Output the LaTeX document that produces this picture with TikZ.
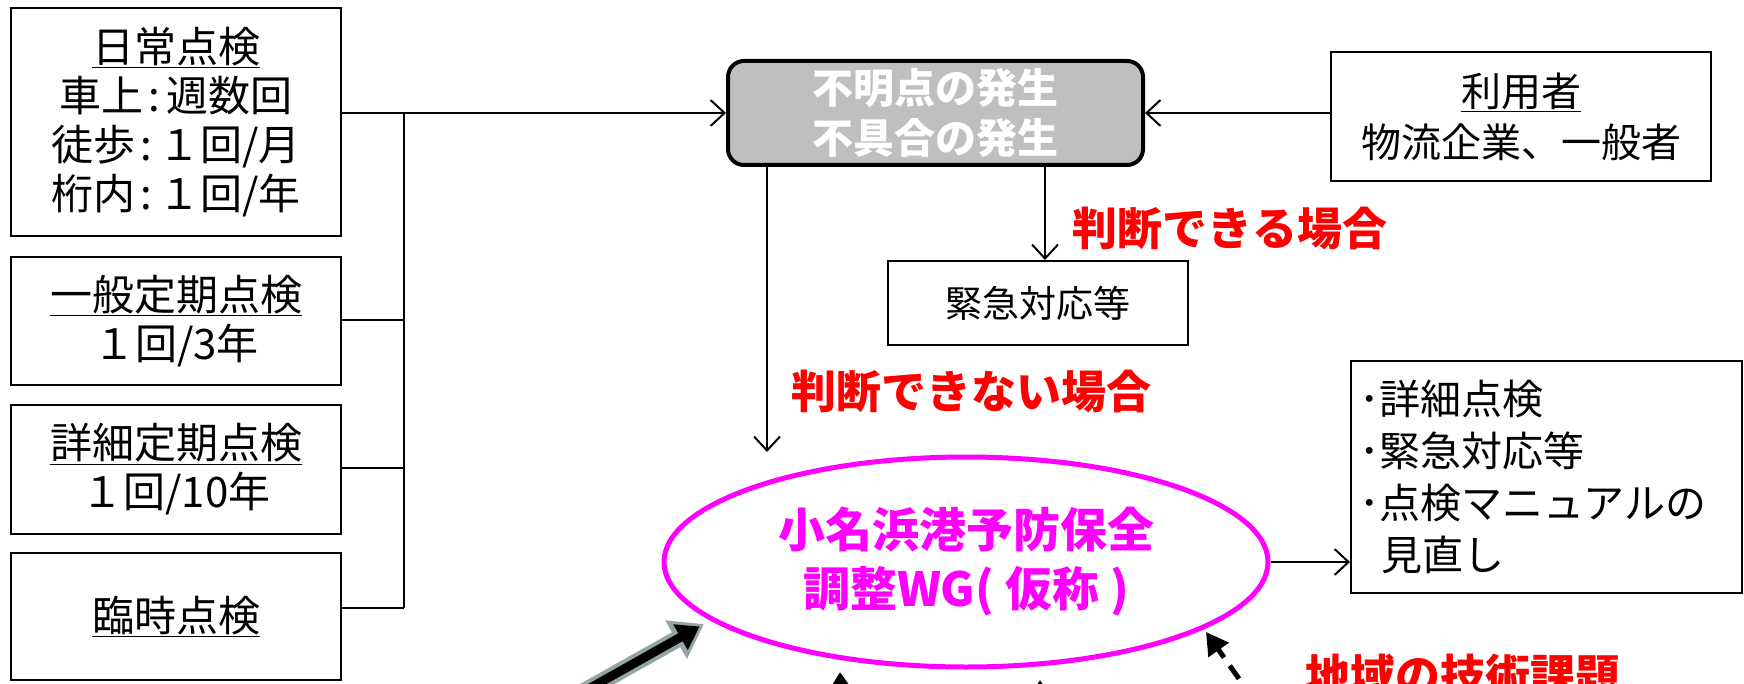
\documentclass[tikz,border=0pt]{standalone}
\usepackage{fontspec}
\setmainfont{Noto Sans CJK JP}
\usetikzlibrary{arrows.meta,shapes.geometric,calc}
\definecolor{boxgray}{HTML}{BFBFBF}
\definecolor{wgmag}{HTML}{FF00FF}
\definecolor{lblred}{HTML}{FF0000}
\definecolor{outgray}{HTML}{95A5A6}
\newcommand{\sepc}{\kern5pt:\kern6pt}
\begin{document}
\begin{tikzpicture}[x=1pt,y=-1pt,
  tbox/.style={draw, line width=2pt, align=center, inner sep=0pt,
    font=\fontsize{42pt}{49pt}\selectfont},
  conn/.style={line width=2pt, -{Straight Barb[length=14pt,width=26pt,line width=2pt]}},
  plain/.style={line width=2pt},
  lbl/.style={text=lblred, inner sep=0pt, font=\fontsize{45pt}{50pt}\selectfont\bfseries},
  uparr/.style={line width=6pt, -{Triangle[length=24pt,width=30pt]}}
]
\useasboundingbox (0,0) rectangle (1744,684);
\clip (0,0) rectangle (1744,684);

% left boxes
\node[tbox, minimum width=330pt, minimum height=228pt] (b1) at (176,122)
  {\underline{日常点検}\\車上\sepc 週数回\\徒歩\sepc １回/月\\桁内\sepc １回/年};
\node[tbox, minimum width=330pt, minimum height=128pt] (b2) at (176,321)
  {\underline{一般定期点検}\\１回/3年};
\node[tbox, minimum width=330pt, minimum height=129pt] (b3) at (176,469.5)
  {\underline{詳細定期点検}\\１回/10年};
\node[tbox, minimum width=330pt, minimum height=127pt] (b4) at (176,616.5)
  {\underline{臨時点検}};

% gray box
\node[draw, line width=4pt, fill=boxgray, rounded corners=16pt, text=white,
  minimum width=415pt, minimum height=104pt, align=center, inner sep=0pt,
  font=\fontsize{41pt}{50pt}\selectfont\bfseries] (g) at (935.5,113)
  {不明点の発生\\不具合の発生};

% user box
\node[tbox, minimum width=380pt, minimum height=129pt,
  font=\fontsize{40pt}{51pt}\selectfont] (u) at (1521,116.5)
  {\underline{利用者}\\物流企業、一般者};

% emergency box
\node[tbox, minimum width=300pt, minimum height=84pt,
  font=\fontsize{37pt}{44pt}\selectfont] (k) at (1038,303) {緊急対応等};

% ellipse
\node[ellipse, draw=wgmag, line width=5pt, minimum width=604pt, minimum height=210pt,
  align=center, text=wgmag, inner sep=0pt,
  font=\fontsize{47pt}{59pt}\selectfont\bfseries] (e) at (966,562)
  {小名浜港予防保全\\調整WG(\hspace{11pt}仮称\hspace{11pt})};

% right box
\node[draw, line width=2pt, minimum width=391pt, minimum height=232pt, inner sep=0pt,
  text width=375pt, align=left, font=\fontsize{41pt}{52pt}\selectfont] (r) at (1546.5,477)
  {･詳細点検\\･緊急対応等\\･点検マニュアルの\\\hspace*{22pt}見直し};

% labels
\node[lbl] (l1) at (1230,228) {判断できる場合};
\node[lbl] (l2) at (971,391) {判断できない場合};
\node[lbl] (l3) at (1463,676) {地域の技術課題};

% left connectors
\coordinate (J) at (404,113);
\draw[conn] (b1.east |- g.west) -- (g.west);
\draw[plain] (J) -- (J |- 0,608);
\draw[plain] (b2.east |- 0,320) -- (J |- 0,320);
\draw[plain] (b3.east |- 0,468) -- (J |- 0,468);
\draw[plain] (b4.east |- 0,608) -- (J |- 0,608);

% user arrow
\draw[conn] (u.west |- g.east) -- (g.east);

% down arrows
\coordinate (d1) at (767,452);
\draw[conn] (d1 |- g.south) -- (d1);
\coordinate (d2) at (1045,0);
\draw[conn] (g.south -| d2) -- (k.north -| d2);

% ellipse to right box
\draw[conn] (e.east) -- (r.west |- e.east);

% bottom arrows
\coordinate (ta) at (560,705);
\coordinate (tb) at (704,624);
\draw[line width=17pt, outgray, -{Triangle[length=32pt,width=42pt]}] (ta) -- (tb);
\draw[line width=9pt, black, shorten >=5pt, -{Triangle[length=22pt,width=28pt]}] (ta) -- (tb);

\coordinate (ua) at (842,730);
\coordinate (ub) at (840,672);
\draw[uparr] (ua) -- (ub);
\coordinate (va) at (1040,730);
\coordinate (vb) at (1040,680);
\draw[uparr] (va) -- (vb);

\coordinate (wa) at (1254,700);
\coordinate (wb) at (1206,632);
\draw[line width=5pt, dashed, dash pattern=on 16pt off 10pt, -{Triangle[length=22pt,width=24pt]}] (wa) -- (wb);
\end{tikzpicture}
\end{document}
